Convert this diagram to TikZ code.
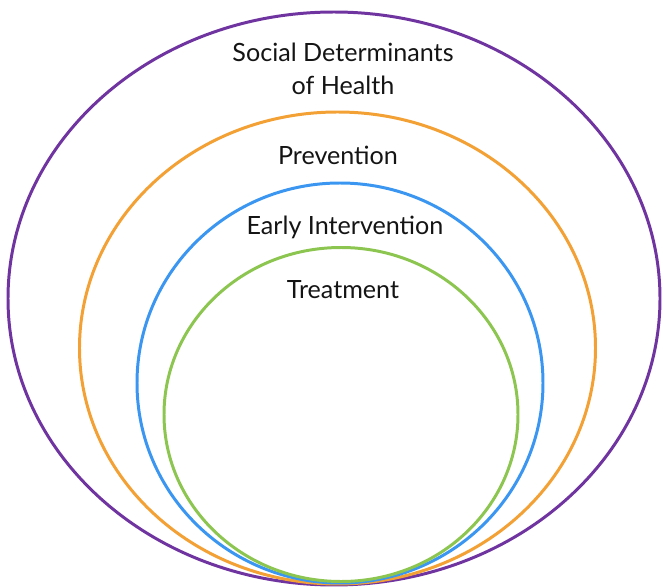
\documentclass[tikz,border=0pt]{standalone}
\usepackage{fontspec}
\setmainfont{Lato}
\usepackage{xcolor}
\usepackage{tikz}
\definecolor{sdhpurple}{RGB}{112, 52, 160}
\definecolor{prevorange}{RGB}{243, 160, 52}
\definecolor{earlyblue}{RGB}{58, 150, 240}
\definecolor{treatgreen}{RGB}{140, 198, 80}

\tikzset{
    ring/.style={line width=1.7pt},
    lbl/.style={font=\fontsize{14.3}{18.8}\selectfont, align=center, text=black!92}
}

\begin{document}
\begin{tikzpicture}[x=0.02cm, y=-0.02cm]
                \useasboundingbox (0,0) rectangle (663,588);
                \draw[ring, sdhpurple] (334,298.5) ellipse (326 and 286.5);
                \draw[ring, prevorange] (337.5,348) ellipse (258 and 236);
                \draw[ring, earlyblue] (340,383) ellipse (203 and 200);
                \draw[ring, treatgreen] (341,414.5) ellipse (177 and 167);

                \node[lbl] (sdh) at (343,69) {Social Determinants\\of Health};
                \node[lbl] (prev) at (338,155) {Prevention};
                \node[lbl] (early) at (345,227) {Early Intervention};
                \node[lbl] (treat) at (343,290) {Treatment};
            \end{tikzpicture}
\end{document}
